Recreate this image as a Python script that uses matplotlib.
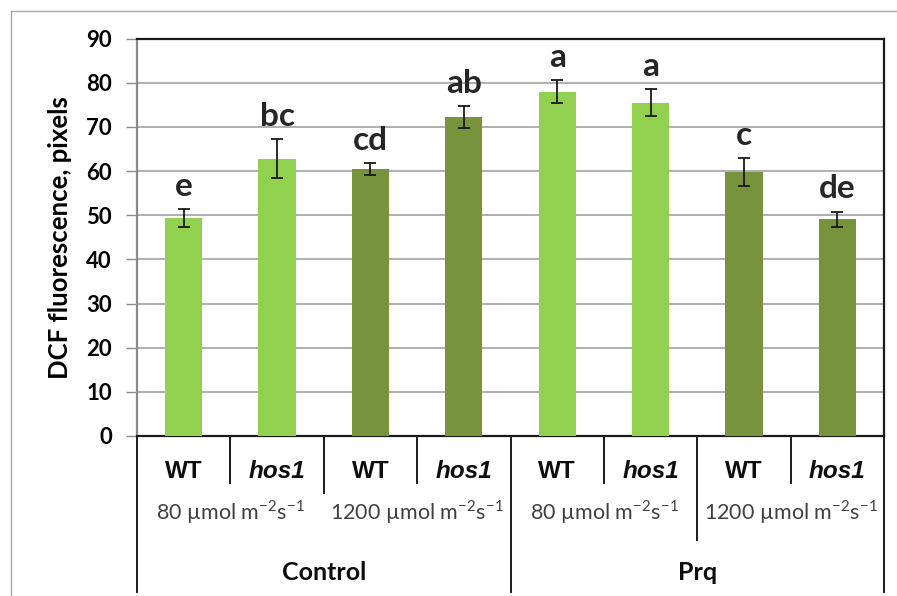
import matplotlib
matplotlib.use("Agg")
import matplotlib.pyplot as plt
from matplotlib.lines import Line2D

# ---------------------------------------------------------------------------
# Data: DCF fluorescence per genotype / light / treatment
# ---------------------------------------------------------------------------
genotypes = ["WT", "hos1", "WT", "hos1", "WT", "hos1", "WT", "hos1"]
light_levels = ["80 µmol m$^{\\mathregular{-2}}$s$^{\\mathregular{-1}}$",
                "1200 µmol m$^{\\mathregular{-2}}$s$^{\\mathregular{-1}}$",
                "80 µmol m$^{\\mathregular{-2}}$s$^{\\mathregular{-1}}$",
                "1200 µmol m$^{\\mathregular{-2}}$s$^{\\mathregular{-1}}$"]
treatments = ["Control", "Prq"]

means = [49.3, 62.8, 60.4, 72.2, 78.0, 75.5, 59.8, 49.1]
errors = [2.0, 4.4, 1.4, 2.5, 2.6, 3.1, 3.1, 1.7]
letters = ["e", "bc", "cd", "ab", "a", "a", "c", "de"]

LIGHT = "#92D050"
DARK = "#77933C"
colors = [LIGHT, LIGHT, DARK, DARK, LIGHT, LIGHT, DARK, DARK]

plt.rcParams["font.family"] = ["Lato", "DejaVu Sans"]
plt.rcParams["mathtext.fontset"] = "custom"
plt.rcParams["mathtext.rm"] = "Lato"

W, H = 897, 596
fig = plt.figure(figsize=(W / 100, H / 100), dpi=100)

# plot area in pixels
left, right, top, bottom = 137, 884, 38.5, 436
ax = fig.add_axes([left / W, 1 - bottom / H, (right - left) / W, (bottom - top) / H])

x = list(range(len(means)))
ax.bar(x, means, width=0.4, color=colors, zorder=3)
ax.errorbar(x, means, yerr=errors, fmt="none", ecolor="#1a1a1a",
            elinewidth=1.3, capsize=4.5, capthick=1.3, zorder=4)

for xi, m, e, lab in zip(x, means, errors, letters):
    ax.text(xi, m + e + 3.0, lab, ha="center", va="baseline",
            fontsize=24, fontweight="bold", color="#262626")

ax.set_xlim(-0.5, len(means) - 0.5)
ax.set_ylim(0, 90)
ax.set_yticks(range(0, 91, 10))
ax.yaxis.grid(True, color="#9a9a9a", linewidth=1.1, zorder=0)
ax.set_axisbelow(True)
ax.set_xticks([])
ax.tick_params(axis="y", direction="out", length=8, width=1, color="#8a8a8a",
               labelsize=16, pad=10)
for t in ax.get_yticklabels():
    t.set_fontweight("bold")

ax.set_ylabel("DCF fluorescence, pixels", fontsize=18.5, fontweight="bold",
              labelpad=10)

for side in ["top", "right", "bottom"]:
    ax.spines[side].set_color("#1a1a1a")
    ax.spines[side].set_linewidth(1.6)
ax.spines["left"].set_color("#8a8a8a")
ax.spines["left"].set_linewidth(1.6)

# multi-level category axis below the plot
tr = ax.get_xaxis_transform()
span = bottom - top


def yax(py):
    return (bottom - py) / span


def sep(xpos, py_end):
    ax.add_line(Line2D([xpos, xpos], [0, yax(py_end)], transform=tr,
                       color="#1a1a1a", linewidth=1.4, clip_on=False))


for xpos in [0.5, 2.5, 4.5, 6.5]:
    sep(xpos, 483)
sep(1.5, 493)
sep(5.5, 540)
for xpos in [-0.5, 3.5, 7.5]:
    sep(xpos, 592)

for xi, g in zip(x, genotypes):
    is_wt = g == "WT"
    ax.text(xi, yax(472), g, transform=tr, ha="center", va="center",
            fontsize=17.5, fontweight="bold", color="#0d0d0d",
            family="Liberation Sans", style="normal" if is_wt else "italic")

for i, lab in enumerate(light_levels):
    ax.text(2 * i + 0.5, yax(512), lab, transform=tr, ha="center", va="center",
            fontsize=15.5, color="#404040")

for i, lab in enumerate(treatments):
    ax.text(4 * i + 1.5, yax(573), lab, transform=tr, ha="center", va="center",
            fontsize=18, fontweight="bold", color="#0d0d0d")

# thin frame round the figure
fx, fy = 11 / W, 1 - 11 / H
fig.add_artist(Line2D([fx, 1], [fy, fy], color="#a6a6a6", linewidth=1,
                      transform=fig.transFigure))
fig.add_artist(Line2D([fx, fx], [0, fy], color="#a6a6a6", linewidth=1,
                      transform=fig.transFigure))

fig.savefig("out.png", dpi=100)
